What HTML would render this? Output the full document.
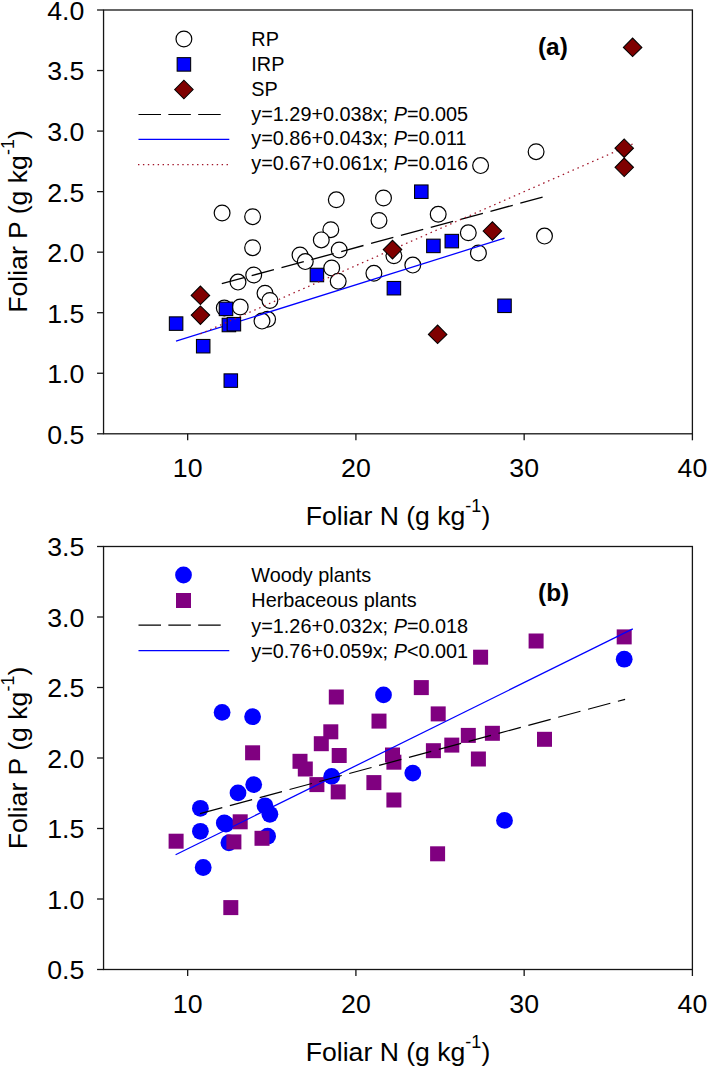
<!DOCTYPE html>
<html><head><meta charset="utf-8"><title>Foliar N vs Foliar P</title>
<style>
html,body{margin:0;padding:0;background:#fff;}
body{width:709px;height:1069px;position:relative;overflow:hidden;font-family:"Liberation Sans",sans-serif;}
</style></head><body>
<svg width="709" height="1069" viewBox="0 0 709 1069" style="position:absolute;left:0;top:0">
<rect x="0" y="0" width="709" height="1069" fill="#fff"/>
<g stroke="#151515" stroke-width="1.3" fill="none">
<rect x="103.55" y="10.00" width="588.85" height="423.80"/>
<line x1="97.05" y1="433.80" x2="103.55" y2="433.80"/>
<line x1="97.05" y1="373.26" x2="103.55" y2="373.26"/>
<line x1="97.05" y1="312.71" x2="103.55" y2="312.71"/>
<line x1="97.05" y1="252.17" x2="103.55" y2="252.17"/>
<line x1="97.05" y1="191.63" x2="103.55" y2="191.63"/>
<line x1="97.05" y1="131.09" x2="103.55" y2="131.09"/>
<line x1="97.05" y1="70.54" x2="103.55" y2="70.54"/>
<line x1="97.05" y1="10.00" x2="103.55" y2="10.00"/>
<line x1="187.67" y1="433.80" x2="187.67" y2="440.30"/>
<line x1="355.91" y1="433.80" x2="355.91" y2="440.30"/>
<line x1="524.16" y1="433.80" x2="524.16" y2="440.30"/>
<line x1="692.40" y1="433.80" x2="692.40" y2="440.30"/>
</g>
<g font-family="Liberation Sans, sans-serif" font-size="26.7" fill="#000">
<text x="84.3" y="443.70" text-anchor="end">0.5</text>
<text x="84.3" y="383.16" text-anchor="end">1.0</text>
<text x="84.3" y="322.61" text-anchor="end">1.5</text>
<text x="84.3" y="262.07" text-anchor="end">2.0</text>
<text x="84.3" y="201.53" text-anchor="end">2.5</text>
<text x="84.3" y="140.99" text-anchor="end">3.0</text>
<text x="84.3" y="80.44" text-anchor="end">3.5</text>
<text x="84.3" y="19.90" text-anchor="end">4.0</text>
<text x="187.67" y="476.80" text-anchor="middle">10</text>
<text x="355.91" y="476.80" text-anchor="middle">20</text>
<text x="524.16" y="476.80" text-anchor="middle">30</text>
<text x="692.40" y="476.80" text-anchor="middle">40</text>
</g>
<g stroke="#000" stroke-width="1.2">
<circle cx="222.1" cy="213.0" r="7.9" fill="#fff"/>
<circle cx="252.6" cy="216.7" r="7.9" fill="#fff"/>
<circle cx="252.6" cy="247.7" r="7.9" fill="#fff"/>
<circle cx="336.3" cy="199.8" r="7.9" fill="#fff"/>
<circle cx="383.5" cy="198.0" r="7.9" fill="#fff"/>
<circle cx="379.0" cy="220.5" r="7.9" fill="#fff"/>
<circle cx="330.8" cy="229.7" r="7.9" fill="#fff"/>
<circle cx="321.3" cy="239.9" r="7.9" fill="#fff"/>
<circle cx="339.2" cy="250.0" r="7.9" fill="#fff"/>
<circle cx="300.0" cy="255.0" r="7.9" fill="#fff"/>
<circle cx="305.3" cy="261.6" r="7.9" fill="#fff"/>
<circle cx="331.7" cy="268.0" r="7.9" fill="#fff"/>
<circle cx="338.2" cy="281.3" r="7.9" fill="#fff"/>
<circle cx="253.7" cy="275.0" r="7.9" fill="#fff"/>
<circle cx="238.0" cy="282.1" r="7.9" fill="#fff"/>
<circle cx="265.0" cy="293.2" r="7.9" fill="#fff"/>
<circle cx="269.9" cy="300.5" r="7.9" fill="#fff"/>
<circle cx="240.2" cy="307.0" r="7.9" fill="#fff"/>
<circle cx="224.3" cy="308.0" r="7.9" fill="#fff"/>
<circle cx="267.6" cy="319.3" r="7.9" fill="#fff"/>
<circle cx="262.0" cy="321.1" r="7.9" fill="#fff"/>
<circle cx="373.9" cy="273.3" r="7.9" fill="#fff"/>
<circle cx="393.9" cy="255.8" r="7.9" fill="#fff"/>
<circle cx="412.8" cy="265.1" r="7.9" fill="#fff"/>
<circle cx="438.2" cy="214.3" r="7.9" fill="#fff"/>
<circle cx="468.3" cy="232.8" r="7.9" fill="#fff"/>
<circle cx="478.4" cy="253.0" r="7.9" fill="#fff"/>
<circle cx="480.6" cy="165.6" r="7.9" fill="#fff"/>
<circle cx="536.1" cy="151.7" r="7.9" fill="#fff"/>
<circle cx="544.5" cy="236.1" r="7.9" fill="#fff"/>
</g>
<line x1="221.80" y1="283.70" x2="543.80" y2="196.90" stroke="#000" stroke-width="1.3" stroke-dasharray="23.096 7.820"/>
<line x1="176.00" y1="341.20" x2="504.50" y2="238.20" stroke="#0000ff" stroke-width="1.25"/>
<g stroke="#000" stroke-width="1.05">
<rect x="169.35" y="316.85" width="13.5" height="13.5" fill="#0000ff"/>
<rect x="196.45" y="339.45" width="13.5" height="13.5" fill="#0000ff"/>
<rect x="219.25" y="302.15" width="13.5" height="13.5" fill="#0000ff"/>
<rect x="222.15" y="318.25" width="13.5" height="13.5" fill="#0000ff"/>
<rect x="227.15" y="317.45" width="13.5" height="13.5" fill="#0000ff"/>
<rect x="224.05" y="373.85" width="13.5" height="13.5" fill="#0000ff"/>
<rect x="310.15" y="268.25" width="13.5" height="13.5" fill="#0000ff"/>
<rect x="387.15" y="281.45" width="13.5" height="13.5" fill="#0000ff"/>
<rect x="414.55" y="184.95" width="13.5" height="13.5" fill="#0000ff"/>
<rect x="426.65" y="239.15" width="13.5" height="13.5" fill="#0000ff"/>
<rect x="445.05" y="234.35" width="13.5" height="13.5" fill="#0000ff"/>
<rect x="497.75" y="299.05" width="13.5" height="13.5" fill="#0000ff"/>
</g>
<line x1="200.40" y1="333.90" x2="632.60" y2="144.00" stroke="#a01428" stroke-width="1.25" stroke-dasharray="1.529 3.819"/>
<g stroke="#000" stroke-width="1.05">
<path d="M191.2,295.4 L200.4,286.1 L209.7,295.4 L200.4,304.6 Z" fill="#7f0000"/>
<path d="M191.2,315.1 L200.4,305.9 L209.7,315.1 L200.4,324.4 Z" fill="#7f0000"/>
<path d="M383.2,249.6 L392.5,240.3 L401.8,249.6 L392.5,258.9 Z" fill="#7f0000"/>
<path d="M428.4,334.4 L437.6,325.1 L446.9,334.4 L437.6,343.6 Z" fill="#7f0000"/>
<path d="M483.1,231.0 L492.4,221.8 L501.6,231.0 L492.4,240.2 Z" fill="#7f0000"/>
<path d="M615.0,148.2 L624.2,138.9 L633.5,148.2 L624.2,157.4 Z" fill="#7f0000"/>
<path d="M615.0,167.3 L624.2,158.1 L633.5,167.3 L624.2,176.6 Z" fill="#7f0000"/>
<path d="M623.4,47.4 L632.6,38.1 L641.9,47.4 L632.6,56.6 Z" fill="#7f0000"/>
</g>
<g stroke="#000" stroke-width="1.05">
<circle cx="183.9" cy="39.0" r="7.9" fill="#fff" stroke-width="1.2"/>
<rect x="177.15" y="57.65" width="13.5" height="13.5" fill="#0000ff"/>
<path d="M174.65,89.5 L183.9,80.25 L193.15,89.5 L183.9,98.75 Z" fill="#7f0000"/>
</g>
<line x1="138.5" y1="114.5" x2="221" y2="114.5" stroke="#000" stroke-width="1.2" stroke-dasharray="22.5 7.35"/>
<line x1="138.5" y1="139.3" x2="229.3" y2="139.3" stroke="#0000ff" stroke-width="1.2"/>
<line x1="138" y1="164.5" x2="228.5" y2="164.5" stroke="#a01428" stroke-width="1.25" stroke-dasharray="1.4 3.52"/>
<g font-family="Liberation Sans, sans-serif" font-size="19.85" fill="#000">
<text x="251.3" y="46.1">RP</text>
<text x="251.3" y="70.9">IRP</text>
<text x="251.3" y="95.7">SP</text>
<text x="251.3" y="120.5">y=1.29+0.038x; <tspan font-style="italic">P</tspan>=0.005</text>
<text x="251.3" y="145.3">y=0.86+0.043x; <tspan font-style="italic">P</tspan>=0.011</text>
<text x="251.3" y="170.1">y=0.67+0.061x; <tspan font-style="italic">P</tspan>=0.016</text>
</g>
<text x="552.9" y="54.9" text-anchor="middle" font-family="Liberation Sans, sans-serif" font-weight="bold" font-size="24.4" fill="#000">(a)</text>
<text x="398" y="525.0" text-anchor="middle" font-family="Liberation Sans, sans-serif" font-size="26.6" fill="#000">Foliar N (g kg<tspan font-size="18" dy="-13">-1</tspan><tspan dy="13">)</tspan></text>
<text transform="translate(27.1,221.5) rotate(-90)" text-anchor="middle" font-family="Liberation Sans, sans-serif" font-size="26.6" fill="#000">Foliar P (g kg<tspan font-size="18" dy="-13">-1</tspan><tspan dy="13">)</tspan></text>
<g stroke="#151515" stroke-width="1.3" fill="none">
<rect x="103.55" y="546.50" width="588.85" height="423.00"/>
<line x1="97.05" y1="969.50" x2="103.55" y2="969.50"/>
<line x1="97.05" y1="899.00" x2="103.55" y2="899.00"/>
<line x1="97.05" y1="828.50" x2="103.55" y2="828.50"/>
<line x1="97.05" y1="758.00" x2="103.55" y2="758.00"/>
<line x1="97.05" y1="687.50" x2="103.55" y2="687.50"/>
<line x1="97.05" y1="617.00" x2="103.55" y2="617.00"/>
<line x1="97.05" y1="546.50" x2="103.55" y2="546.50"/>
<line x1="187.67" y1="969.50" x2="187.67" y2="976.00"/>
<line x1="355.91" y1="969.50" x2="355.91" y2="976.00"/>
<line x1="524.16" y1="969.50" x2="524.16" y2="976.00"/>
<line x1="692.40" y1="969.50" x2="692.40" y2="976.00"/>
</g>
<g font-family="Liberation Sans, sans-serif" font-size="26.7" fill="#000">
<text x="84.3" y="979.40" text-anchor="end">0.5</text>
<text x="84.3" y="908.90" text-anchor="end">1.0</text>
<text x="84.3" y="838.40" text-anchor="end">1.5</text>
<text x="84.3" y="767.90" text-anchor="end">2.0</text>
<text x="84.3" y="697.40" text-anchor="end">2.5</text>
<text x="84.3" y="626.90" text-anchor="end">3.0</text>
<text x="84.3" y="556.40" text-anchor="end">3.5</text>
<text x="187.67" y="1012.50" text-anchor="middle">10</text>
<text x="355.91" y="1012.50" text-anchor="middle">20</text>
<text x="524.16" y="1012.50" text-anchor="middle">30</text>
<text x="692.40" y="1012.50" text-anchor="middle">40</text>
</g>
<circle cx="203.2" cy="867.5" r="8.4" fill="#0000ff"/>
<circle cx="226.0" cy="824.1" r="8.4" fill="#0000ff"/>
<circle cx="228.9" cy="842.8" r="8.4" fill="#0000ff"/>
<circle cx="504.5" cy="820.4" r="8.4" fill="#0000ff"/>
<rect x="168.6" y="833.7" width="15.0" height="15.0" fill="#800080"/>
<rect x="226.4" y="834.4" width="15.0" height="15.0" fill="#800080"/>
<rect x="223.3" y="900.1" width="15.0" height="15.0" fill="#800080"/>
<rect x="309.4" y="777.1" width="15.0" height="15.0" fill="#800080"/>
<rect x="386.4" y="792.5" width="15.0" height="15.0" fill="#800080"/>
<rect x="413.8" y="680.1" width="15.0" height="15.0" fill="#800080"/>
<rect x="425.9" y="743.2" width="15.0" height="15.0" fill="#800080"/>
<rect x="444.3" y="737.6" width="15.0" height="15.0" fill="#800080"/>
<circle cx="222.1" cy="712.4" r="8.4" fill="#0000ff"/>
<circle cx="252.6" cy="716.7" r="8.4" fill="#0000ff"/>
<circle cx="383.5" cy="694.9" r="8.4" fill="#0000ff"/>
<circle cx="331.7" cy="776.4" r="8.4" fill="#0000ff"/>
<circle cx="253.7" cy="784.6" r="8.4" fill="#0000ff"/>
<circle cx="238.0" cy="792.9" r="8.4" fill="#0000ff"/>
<circle cx="265.0" cy="805.8" r="8.4" fill="#0000ff"/>
<circle cx="269.9" cy="814.3" r="8.4" fill="#0000ff"/>
<circle cx="224.3" cy="823.0" r="8.4" fill="#0000ff"/>
<circle cx="267.6" cy="836.2" r="8.4" fill="#0000ff"/>
<circle cx="412.8" cy="773.1" r="8.4" fill="#0000ff"/>
<rect x="245.1" y="745.3" width="15.0" height="15.0" fill="#800080"/>
<rect x="328.8" y="689.5" width="15.0" height="15.0" fill="#800080"/>
<rect x="371.5" y="713.6" width="15.0" height="15.0" fill="#800080"/>
<rect x="323.3" y="724.3" width="15.0" height="15.0" fill="#800080"/>
<rect x="313.8" y="736.2" width="15.0" height="15.0" fill="#800080"/>
<rect x="331.7" y="748.0" width="15.0" height="15.0" fill="#800080"/>
<rect x="292.5" y="753.8" width="15.0" height="15.0" fill="#800080"/>
<rect x="297.8" y="761.5" width="15.0" height="15.0" fill="#800080"/>
<rect x="330.7" y="784.4" width="15.0" height="15.0" fill="#800080"/>
<rect x="232.7" y="814.3" width="15.0" height="15.0" fill="#800080"/>
<rect x="254.5" y="830.8" width="15.0" height="15.0" fill="#800080"/>
<rect x="366.4" y="775.1" width="15.0" height="15.0" fill="#800080"/>
<rect x="386.4" y="754.7" width="15.0" height="15.0" fill="#800080"/>
<rect x="430.7" y="706.4" width="15.0" height="15.0" fill="#800080"/>
<rect x="460.8" y="727.9" width="15.0" height="15.0" fill="#800080"/>
<rect x="470.9" y="751.5" width="15.0" height="15.0" fill="#800080"/>
<rect x="473.1" y="649.7" width="15.0" height="15.0" fill="#800080"/>
<rect x="528.6" y="633.5" width="15.0" height="15.0" fill="#800080"/>
<rect x="537.0" y="731.8" width="15.0" height="15.0" fill="#800080"/>
<circle cx="200.4" cy="808.3" r="8.4" fill="#0000ff"/>
<circle cx="200.4" cy="831.3" r="8.4" fill="#0000ff"/>
<circle cx="624.2" cy="659.2" r="8.4" fill="#0000ff"/>
<rect x="385.0" y="747.5" width="15.0" height="15.0" fill="#800080"/>
<rect x="430.1" y="846.3" width="15.0" height="15.0" fill="#800080"/>
<rect x="484.9" y="725.8" width="15.0" height="15.0" fill="#800080"/>
<rect x="616.7" y="629.4" width="15.0" height="15.0" fill="#800080"/>
<line x1="175.60" y1="854.80" x2="632.80" y2="628.90" stroke="#0000ff" stroke-width="1.25"/>
<line x1="200.00" y1="813.60" x2="625.10" y2="699.30" stroke="#000" stroke-width="1.2" stroke-dasharray="23.092 7.818"/>
<circle cx="183.5" cy="575" r="8.4" fill="#0000ff"/>
<rect x="176.0" y="593.0" width="15.0" height="15.0" fill="#800080"/>
<line x1="138.5" y1="625.2" x2="221" y2="625.2" stroke="#000" stroke-width="1.2" stroke-dasharray="22.5 7.35"/>
<line x1="138.5" y1="650.7" x2="229.3" y2="650.7" stroke="#0000ff" stroke-width="1.2"/>
<g font-family="Liberation Sans, sans-serif" font-size="19.85" fill="#000">
<text x="251.3" y="582">Woody plants</text>
<text x="251.3" y="607">Herbaceous plants</text>
<text x="251.3" y="632.8">y=1.26+0.032x; <tspan font-style="italic">P</tspan>=0.018</text>
<text x="251.3" y="658.2">y=0.76+0.059x; <tspan font-style="italic">P</tspan>&lt;0.001</text>
</g>
<text x="553.6" y="600.5" text-anchor="middle" font-family="Liberation Sans, sans-serif" font-weight="bold" font-size="24.4" fill="#000">(b)</text>
<text x="398" y="1060.8" text-anchor="middle" font-family="Liberation Sans, sans-serif" font-size="26.6" fill="#000">Foliar N (g kg<tspan font-size="18" dy="-13">-1</tspan><tspan dy="13">)</tspan></text>
<text transform="translate(27.1,758) rotate(-90)" text-anchor="middle" font-family="Liberation Sans, sans-serif" font-size="26.6" fill="#000">Foliar P (g kg<tspan font-size="18" dy="-13">-1</tspan><tspan dy="13">)</tspan></text>
</svg>
</body></html>
